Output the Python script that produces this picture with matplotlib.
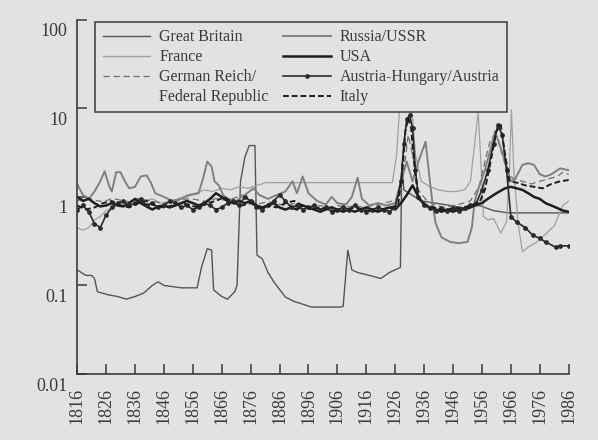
"""
Relative price series 1816-1986, log scale (scanned book figure).
"""

import matplotlib
matplotlib.use("Agg")
import matplotlib.pyplot as plt
import matplotlib.transforms as mtransforms
from matplotlib.lines import Line2D


# ============================================================================
# Data
# ============================================================================

gb_years = [1816, 1819, 1821, 1822, 1823, 1827, 1830, 1833, 1836, 1839,
            1842, 1844, 1846, 1849, 1852, 1857.5, 1859, 1861, 1862.5, 1863.2,
            1866, 1868, 1870.5, 1871.3, 1872.5, 1874, 1875.5, 1877.5, 1878.2, 1880,
            1882, 1884, 1886, 1888, 1891, 1893, 1897, 1901, 1907, 1908,
            1909.6, 1911, 1913, 1917, 1921, 1924, 1927.8, 1928.3, 1929, 1935,
            1940, 1945, 1950, 1955, 1960, 1965, 1970, 1975, 1980, 1986]
gb_vals = [0.15, 0.13, 0.13, 0.12, 0.085, 0.078, 0.075, 0.07, 0.075, 0.082,
           0.10, 0.11, 0.10, 0.097, 0.094, 0.094, 0.16, 0.26, 0.25, 0.089,
           0.075, 0.07, 0.085, 0.10, 1.5, 2.8, 3.8, 3.8, 0.22, 0.20,
           0.14, 0.11, 0.09, 0.074, 0.066, 0.063, 0.057, 0.057, 0.057, 0.058,
           0.25, 0.15, 0.14, 0.13, 0.12, 0.14, 0.16, 2.4, 1.2, 0.9,
           0.85, 0.8, 0.75, 0.8, 0.7, 0.66, 0.66, 0.66, 0.66, 0.66]

fr_years = [1816, 1818, 1820, 1822, 1824, 1826, 1828, 1830, 1833, 1836,
            1839, 1842, 1845, 1848, 1851, 1854, 1857, 1860, 1863, 1866,
            1869, 1872, 1875, 1878, 1880, 1881, 1890, 1900, 1910, 1920,
            1925, 1926.5, 1927.5, 1929, 1930.5, 1932, 1933, 1935, 1938, 1941,
            1944, 1947, 1950, 1952, 1953.5, 1954.7, 1955.5, 1956.5, 1958, 1960,
            1962.5, 1964.5, 1965.5, 1966.2, 1967, 1968.5, 1970, 1972, 1975, 1978,
            1981, 1984, 1986]
fr_vals = [0.45, 0.42, 0.45, 0.55, 0.6, 0.7, 0.75, 0.8, 0.85, 0.8,
           0.9, 0.95, 0.85, 0.9, 0.95, 1.05, 1.1, 1.2, 1.15, 1.25,
           1.2, 1.3, 1.25, 1.35, 1.4, 1.45, 1.45, 1.45, 1.45, 1.45,
           1.45, 3.0, 10.0, 12.5, 12.0, 8.0, 3.0, 1.5, 1.3, 1.2,
           1.15, 1.15, 1.2, 1.5, 4.0, 9.0, 3.0, 0.6, 0.55, 0.57,
           0.39, 0.52, 2.0, 9.6, 2.0, 0.5, 0.24, 0.27, 0.31, 0.38,
           0.47, 0.8, 0.9]

de_years = [1816, 1819, 1822, 1825, 1828, 1831, 1834, 1837, 1840, 1843,
            1846, 1849, 1852, 1855, 1858, 1861, 1864, 1867, 1870, 1873,
            1876, 1879, 1882, 1885, 1888, 1891, 1894, 1897, 1900, 1903,
            1906, 1909, 1912, 1915, 1918, 1921, 1924, 1927, 1929, 1930.5,
            1932, 1934, 1937, 1940, 1943, 1946, 1949, 1952, 1955, 1957,
            1959, 1961, 1963, 1965, 1967, 1970, 1973, 1976, 1979, 1982,
            1984, 1986]
de_vals = [0.9, 1.0, 0.92, 0.88, 0.96, 0.92, 0.88, 0.96, 0.92, 0.88,
           0.84, 0.88, 0.92, 0.96, 0.92, 0.88, 0.96, 0.92, 0.96, 1.05,
           0.92, 0.84, 0.88, 0.84, 0.8, 0.84, 0.8, 0.76, 0.8, 0.76,
           0.8, 0.76, 0.8, 0.76, 0.8, 0.84, 0.88, 0.96, 2.0, 5.0,
           3.0, 1.2, 0.9, 0.8, 0.76, 0.8, 0.84, 0.9, 1.3, 2.5,
           4.5, 5.0, 3.0, 1.8, 1.6, 1.5, 1.4, 1.5, 1.6, 1.7,
           1.9, 1.8]

ru_years = [1816, 1818, 1820, 1822, 1824, 1825.5, 1827, 1828, 1829.5, 1831,
            1832.5, 1834, 1836, 1838, 1840, 1841.5, 1843, 1846, 1849, 1852,
            1855, 1858, 1859.5, 1861, 1862.5, 1863.5, 1865, 1866.5, 1868, 1871,
            1874, 1877, 1879, 1882, 1885, 1888, 1890.5, 1892, 1894, 1896,
            1899, 1902, 1904, 1906, 1909, 1911, 1913, 1914.5, 1917, 1920,
            1923, 1926, 1928, 1930, 1932, 1934, 1936.5, 1938, 1939, 1940,
            1942, 1945, 1948, 1951, 1952.5, 1953.5, 1955, 1957, 1959, 1960.5,
            1962, 1964, 1966, 1967.5, 1970, 1972, 1974, 1976, 1978, 1980,
            1983, 1986]
ru_vals = [1.4, 1.05, 0.95, 1.15, 1.5, 1.95, 1.35, 1.15, 1.9, 1.9,
           1.5, 1.25, 1.3, 1.7, 1.75, 1.45, 1.1, 1.0, 0.9, 0.95,
           1.05, 1.1, 1.6, 2.5, 2.2, 1.5, 1.35, 1.05, 0.95, 0.9,
           1.05, 1.25, 1.05, 0.95, 1.05, 1.15, 1.5, 1.1, 1.7, 1.1,
           0.9, 0.82, 1.0, 0.85, 0.82, 1.0, 1.65, 0.95, 0.8, 0.85,
           0.8, 0.85, 1.5, 2.5, 1.5, 2.5, 4.2, 1.5, 0.8, 0.5,
           0.35, 0.31, 0.30, 0.31, 0.45, 0.9, 1.3, 2.0, 3.5, 5.5,
           4.0, 2.5, 1.5, 1.6, 2.3, 2.4, 2.3, 1.8, 1.7, 1.8,
           2.1, 2.0]

us_years = [1816, 1818, 1820, 1822, 1824, 1826, 1828, 1830, 1832, 1834,
            1836, 1838, 1840, 1842, 1844, 1846, 1848, 1850, 1852, 1854,
            1856, 1858, 1860, 1862, 1864, 1866, 1868, 1870, 1872, 1874,
            1876, 1878, 1880, 1882, 1884, 1886, 1888, 1890, 1892, 1894,
            1896, 1898, 1900, 1902, 1904, 1906, 1908, 1910, 1912, 1914,
            1916, 1918, 1920, 1922, 1924, 1926, 1928, 1930, 1932, 1934,
            1936, 1938, 1940, 1942, 1944, 1946, 1948, 1950, 1952, 1954,
            1956, 1958, 1960, 1962, 1964, 1966, 1968, 1970, 1972, 1974,
            1976, 1978, 1980, 1982, 1984, 1986]
us_vals = [1.0, 0.9, 0.95, 0.85, 0.78, 0.8, 0.85, 0.8, 0.78, 0.85,
           0.95, 0.85, 0.78, 0.72, 0.78, 0.8, 0.76, 0.8, 0.85, 0.9,
           0.85, 0.8, 0.85, 0.95, 1.1, 1.0, 0.9, 0.85, 0.9, 0.85,
           0.9, 0.8, 0.76, 0.8, 0.85, 0.76, 0.72, 0.76, 0.72, 0.8,
           0.76, 0.72, 0.68, 0.72, 0.76, 0.72, 0.68, 0.72, 0.68, 0.72,
           0.76, 0.72, 0.68, 0.72, 0.76, 0.72, 0.85, 1.05, 1.35, 1.0,
           0.82, 0.76, 0.72, 0.68, 0.72, 0.68, 0.72, 0.72, 0.76, 0.82,
           0.85, 0.95, 1.05, 1.15, 1.25, 1.3, 1.25, 1.2, 1.1, 1.0,
           0.95, 0.85, 0.8, 0.75, 0.7, 0.68]

at_years = [1816, 1818, 1820, 1822, 1824, 1826, 1828, 1830, 1832, 1834,
            1836, 1838, 1840, 1842, 1844, 1846, 1848, 1850, 1852, 1854,
            1856, 1858, 1860, 1862, 1864, 1866, 1868, 1870, 1872, 1874,
            1876, 1878, 1880, 1882, 1884, 1886, 1888, 1890, 1892, 1894,
            1896, 1898, 1900, 1902, 1904, 1906, 1908, 1910, 1912, 1914,
            1916, 1918, 1920, 1922, 1924, 1926, 1928, 1929, 1930, 1931,
            1932, 1933, 1934, 1936, 1938, 1940, 1942, 1944, 1946, 1948,
            1950, 1952, 1954, 1956, 1958, 1960, 1961.5, 1963, 1964.5, 1966,
            1968, 1971, 1973.5, 1976, 1978, 1981.5, 1983, 1986]
at_vals = [0.72, 0.8, 0.68, 0.5, 0.45, 0.62, 0.76, 0.85, 0.9, 0.8,
           0.85, 0.95, 0.8, 0.85, 0.76, 0.8, 0.9, 0.85, 0.76, 0.8,
           0.72, 0.76, 0.85, 0.8, 0.72, 0.76, 0.85, 0.9, 0.8, 1.0,
           0.9, 0.76, 0.72, 0.8, 0.9, 1.05, 0.9, 0.76, 0.8, 0.72,
           0.76, 0.8, 0.72, 0.76, 0.68, 0.72, 0.76, 0.72, 0.8, 0.72,
           0.68, 0.72, 0.76, 0.72, 0.68, 0.76, 1.5, 4.0, 7.5, 8.4,
           6.0, 2.0, 1.0, 0.8, 0.75, 0.7, 0.75, 0.7, 0.75, 0.7,
           0.75, 0.8, 0.85, 1.2, 2.0, 4.0, 6.5, 5.0, 2.0, 0.6,
           0.52, 0.45, 0.37, 0.34, 0.31, 0.27, 0.28, 0.28]

it_years = [1816, 1819, 1822, 1825, 1828, 1831, 1834, 1837, 1840, 1843,
            1846, 1849, 1852, 1855, 1858, 1861, 1864, 1867, 1870, 1873,
            1876, 1879, 1882, 1885, 1888, 1891, 1894, 1897, 1900, 1903,
            1906, 1909, 1912, 1915, 1918, 1921, 1924, 1927, 1928.5, 1929.5,
            1930.5, 1931.5, 1932.5, 1934, 1937, 1940, 1943, 1946, 1949, 1952,
            1955, 1957, 1959, 1961, 1962.5, 1964, 1965.5, 1968, 1971, 1974,
            1977, 1980, 1983, 1986]
it_vals = [0.8, 0.72, 0.76, 0.85, 0.9, 0.8, 0.76, 0.85, 0.9, 0.8,
           0.76, 0.8, 0.85, 0.8, 0.76, 0.85, 0.9, 1.0, 0.85, 0.8,
           0.85, 0.76, 0.8, 0.76, 0.85, 0.9, 0.8, 0.72, 0.76, 0.72,
           0.68, 0.72, 0.76, 0.72, 0.68, 0.72, 0.76, 0.8, 2.0, 5.5,
           7.8, 6.0, 2.5, 0.95, 0.8, 0.75, 0.7, 0.75, 0.75, 0.8,
           0.85, 1.2, 2.5, 5.5, 6.5, 3.0, 1.5, 1.45, 1.35, 1.3,
           1.25, 1.4, 1.5, 1.55]

x_ticks = list(range(1816, 1987, 10))
y_ticks = [0.01, 0.1, 1, 10, 100]
y_tick_labels = ["0.01", "0.1", "1", "10", "100"]


# ============================================================================
# Figure
# ============================================================================

PAPER = "#e2e2e0"
INK = "#3a3a3a"


def main():
    plt.rcParams["font.family"] = ["Liberation Serif", "DejaVu Serif"]

    fig = plt.figure(figsize=(5.98, 4.40), dpi=100, facecolor=PAPER)
    ax = fig.add_axes([0.129, 0.15, 0.822, 0.805], facecolor=PAPER)

    ax.plot(gb_years, gb_vals, color="#555555", lw=1.0)
    ax.plot(fr_years, fr_vals, color="#a0a0a0", lw=0.9)
    ax.plot(de_years, de_vals, color="#707070", lw=0.9, dashes=(5, 3))
    ax.plot(ru_years, ru_vals, color="#808080", lw=1.4)
    ax.plot(us_years, us_vals, color="#1e1e1e", lw=1.8)
    ax.plot(at_years, at_vals, color="#2a2a2a", lw=1.2,
            marker="o", ms=2.4)
    ax.plot(it_years, it_vals, color="#1e1e1e", lw=1.4, dashes=(3, 1.5))

    ax.set_yscale("log")
    ax.set_xlim(1816, 1986)
    ax.set_ylim(0.01, 100)

    for side in ("top", "right"):
        ax.spines[side].set_visible(False)
    for side in ("left", "bottom"):
        ax.spines[side].set_color(INK)
        ax.spines[side].set_linewidth(1.2)

    ax.set_xticks(x_ticks)
    ax.set_xticklabels([str(y) for y in x_ticks], rotation=90,
                       fontsize=13, color=INK)
    ax.set_yticks(y_ticks)
    ax.set_yticklabels(y_tick_labels, fontsize=13, color=INK)
    ax.yaxis.set_minor_locator(matplotlib.ticker.NullLocator())
    ax.tick_params(axis="both", direction="in", length=7, width=1.1,
                   color=INK)
    ax.tick_params(axis="x", pad=10)
    ax.tick_params(axis="y", pad=7)

    # labels of the y axis sit a little below their ticks in the original
    shift = mtransforms.ScaledTranslation(0, -10 / 100, fig.dpi_scale_trans)
    for lab in ax.get_yticklabels():
        lab.set_transform(lab.get_transform() + shift)

    handles = [
        Line2D([], [], color="#555555", lw=1.0),
        Line2D([], [], color="#a0a0a0", lw=0.9),
        Line2D([], [], color="#707070", lw=0.9, dashes=(5, 3)),
        Line2D([], [], color="none"),
        Line2D([], [], color="#808080", lw=1.4),
        Line2D([], [], color="#1e1e1e", lw=1.8),
        Line2D([], [], color="#2a2a2a", lw=1.2, marker="o", ms=2.4),
        Line2D([], [], color="#1e1e1e", lw=1.4, dashes=(3, 1.5)),
    ]
    labels = ["Great Britain", "France", "German Reich/", "Federal Republic",
              "Russia/USSR", "USA", "Austria-Hungary/Austria", "Italy"]

    leg = ax.legend(handles, labels, ncol=2, loc="upper left",
                    bbox_to_anchor=(0.037, 0.994), borderaxespad=0,
                    fontsize=11.5, handlelength=3.0, handletextpad=0.55,
                    columnspacing=0.9, labelspacing=0.25, borderpad=0.45,
                    fancybox=False, framealpha=1, facecolor=PAPER,
                    edgecolor=INK, labelcolor=INK)
    leg.get_frame().set_linewidth(1.1)

    fig.savefig("out.png", dpi=100, facecolor=PAPER)
    plt.close(fig)


if __name__ == "__main__":
    main()
